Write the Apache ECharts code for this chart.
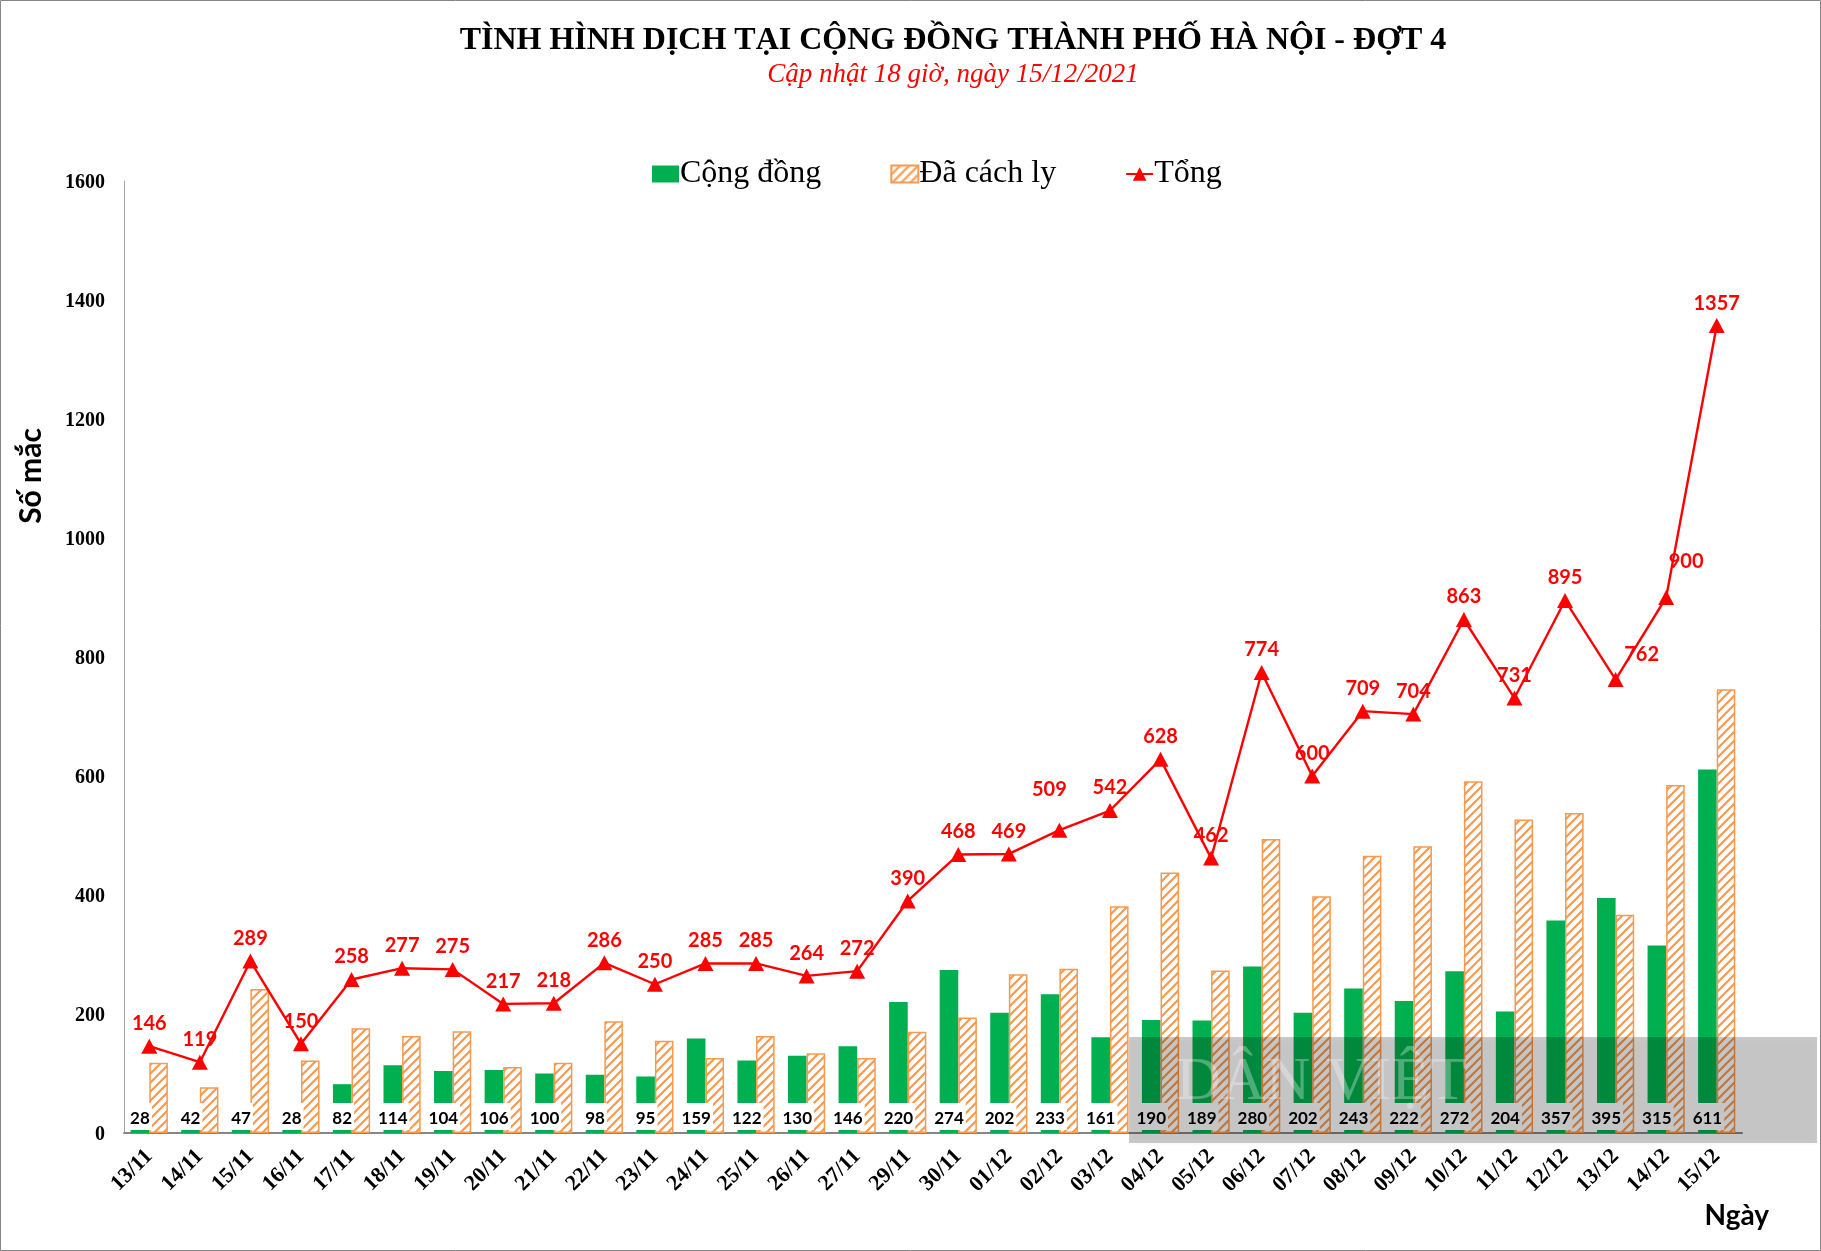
<!DOCTYPE html>
<html>
<head>
<meta charset="utf-8">
<title>Hà Nội</title>
<script src="https://cdn.jsdelivr.net/npm/echarts@6/dist/echarts.min.js"></script>
<style>
html, body { margin: 0; padding: 0; background: #fff; }
#main { width: 1821px; height: 1251px; }
</style>
</head>
<body>
<div id="main"></div>
<script>
var days = ['13/11', '14/11', '15/11', '16/11', '17/11', '18/11', '19/11', '20/11', '21/11', '22/11', '23/11',
    '24/11', '25/11', '26/11', '27/11', '29/11', '30/11', '01/12', '02/12', '03/12', '04/12', '05/12', '06/12',
    '07/12', '08/12', '09/12', '10/12', '11/12', '12/12', '13/12', '14/12', '15/12'];
var congDong = [28, 42, 47, 28, 82, 114, 104, 106, 100, 98, 95, 159, 122, 130, 146, 220, 274, 202, 233, 161, 190,
    189, 280, 202, 243, 222, 272, 204, 357, 395, 315, 611];
var daCachLy = [118, 77, 242, 122, 176, 163, 171, 111, 118, 188, 155, 126, 163, 134, 126, 170, 194, 267, 276, 381,
    438, 273, 494, 398, 466, 482, 591, 527, 538, 367, 585, 746];
var tong = [146, 119, 289, 150, 258, 277, 275, 217, 218, 286, 250, 285, 285, 264, 272, 390, 468, 469, 509, 542, 628,
    462, 774, 600, 709, 704, 863, 731, 895, 762, 900, 1357];
var yTicks = [0, 200, 400, 600, 800, 1000, 1200, 1400, 1600];

// labels the original moved by hand so they clear the line
var labelShift = { '02/12': [-10, -18], '14/12': [20, -13], '13/12': [26, -3] };

var SERIF = '"Liberation Serif", "Times New Roman", serif';
var SANS = 'Lato, Calibri, sans-serif';
var ORANGE = '#f79a50';

function hatchPattern() {
    var size = 9;
    var c = document.createElement('canvas');
    c.width = size;
    c.height = size;
    var ctx = c.getContext('2d');
    ctx.fillStyle = '#fff';
    ctx.fillRect(0, 0, size, size);
    ctx.strokeStyle = ORANGE;
    ctx.lineWidth = 2.2;
    ctx.beginPath();
    ctx.moveTo(-2, 2);
    ctx.lineTo(2, -2);
    ctx.moveTo(-2, size + 2);
    ctx.lineTo(size + 2, -2);
    ctx.moveTo(size - 2, size + 2);
    ctx.lineTo(size + 2, size - 2);
    ctx.stroke();
    return c;
}

var tongData = tong.map(function (v, i) {
    var shift = labelShift[days[i]];
    if (!shift) return v;
    return { value: v, label: { offset: shift } };
});

var chart = echarts.init(document.getElementById('main'));
chart.setOption({
    backgroundColor: '#fff',
    animation: false,
    title: {
        text: 'TÌNH HÌNH DỊCH TẠI CỘNG ĐỒNG THÀNH PHỐ HÀ NỘI - ĐỢT 4',
        subtext: 'Cập nhật 18 giờ, ngày 15/12/2021',
        left: 948,
        textAlign: 'center',
        top: 20,
        itemGap: 4,
        textStyle: { fontFamily: SERIF, fontWeight: 'bold', fontSize: 32, color: '#000' },
        subtextStyle: { fontFamily: SERIF, fontStyle: 'italic', fontSize: 27, color: '#ff0000' }
    },
    legend: {
        left: 647,
        top: 153,
        itemWidth: 27,
        itemHeight: 17,
        itemGap: 69,
        textStyle: { fontFamily: SERIF, fontSize: 32, color: '#000', padding: [0, 0, 0, -4] },
        data: [
            { name: 'Cộng đồng', icon: 'rect' },
            { name: 'Đã cách ly', icon: 'rect' },
            { name: 'Tổng' }
        ]
    },
    grid: { left: 124, right: 79, top: 181, bottom: 118 },
    xAxis: {
        type: 'category',
        data: days,
        name: 'Ngày',
        nameLocation: 'end',
        nameGap: 27,
        nameTextStyle: { fontFamily: SANS, fontWeight: 'bold', fontSize: 28, color: '#000', align: 'right', verticalAlign: 'top', padding: [69, 0, 0, 0] },
        axisTick: { show: false },
        axisLine: { lineStyle: { color: '#868686', width: 2 } },
        axisLabel: { interval: 0, rotate: 45, margin: 20, fontFamily: SERIF, fontWeight: 'bold', fontSize: 22, color: '#000' }
    },
    yAxis: {
        type: 'value',
        min: yTicks[0],
        max: yTicks[yTicks.length - 1],
        interval: yTicks[1] - yTicks[0],
        name: 'Số mắc',
        nameLocation: 'middle',
        nameRotate: 90,
        nameGap: 78,
        nameTextStyle: { fontFamily: SANS, fontWeight: 'bold', fontSize: 30, color: '#000', padding: [0, 0, 0, 362] },
        splitLine: { show: false },
        axisTick: { show: false },
        axisLine: { show: true, lineStyle: { color: '#a6a6a6', width: 1 } },
        axisLabel: {
            margin: 19,
            fontFamily: SERIF,
            fontWeight: 'bold',
            fontSize: 20,
            color: '#000',
            verticalAlign: 'top',
            padding: [-8, 0, 0, 0],
            formatter: function (v) { return String(v); }
        }
    },
    series: [
        {
            name: 'Cộng đồng',
            type: 'bar',
            data: congDong,
            barWidth: 18.6,
            barGap: 0,
            itemStyle: { color: '#00b050' },
            label: {
                show: true,
                position: 'insideBottom',
                distance: 3,
                fontFamily: SANS,
                fontWeight: 'bold',
                fontSize: 17,
                color: '#000',
                backgroundColor: '#fff',
                padding: [7, 2, 2, 2],
                lineHeight: 18
            }
        },
        {
            name: 'Đã cách ly',
            type: 'bar',
            data: daCachLy,
            barWidth: 18.6,
            itemStyle: {
                color: { image: hatchPattern(), repeat: 'repeat' },
                borderColor: ORANGE,
                borderWidth: 1.5
            }
        },
        {
            name: 'Tổng',
            type: 'line',
            data: tongData,
            symbol: 'triangle',
            symbolSize: [16, 15],
            lineStyle: { color: '#ff0000', width: 2.4 },
            itemStyle: { color: '#ff0000' },
            label: {
                show: true,
                position: 'top',
                distance: 5,
                fontFamily: SANS,
                fontWeight: 'bold',
                fontSize: 20,
                color: '#ff0000'
            }
        }
    ],
    graphic: [
        {
            type: 'rect',
            z: 100,
            shape: { x: 1129, y: 1037, width: 688, height: 106 },
            style: { fill: 'rgba(0,0,0,0.2)', shadowBlur: 4, shadowOffsetY: 1, shadowColor: 'rgba(0,0,0,0.15)' },
            silent: true
        },
        {
            type: 'text',
            z: 101,
            x: 1176,
            y: 1052,
            style: { text: 'DÂN VIỆT', fontFamily: SERIF, fontSize: 62, fill: 'rgba(255,255,255,0.3)' },
            silent: true
        },
        {
            type: 'rect',
            z: 102,
            shape: { x: 0.5, y: 0.5, width: 1820, height: 1250 },
            style: { fill: 'transparent', stroke: '#868686', lineWidth: 1 },
            silent: true
        }
    ]
});
</script>
</body>
</html>
